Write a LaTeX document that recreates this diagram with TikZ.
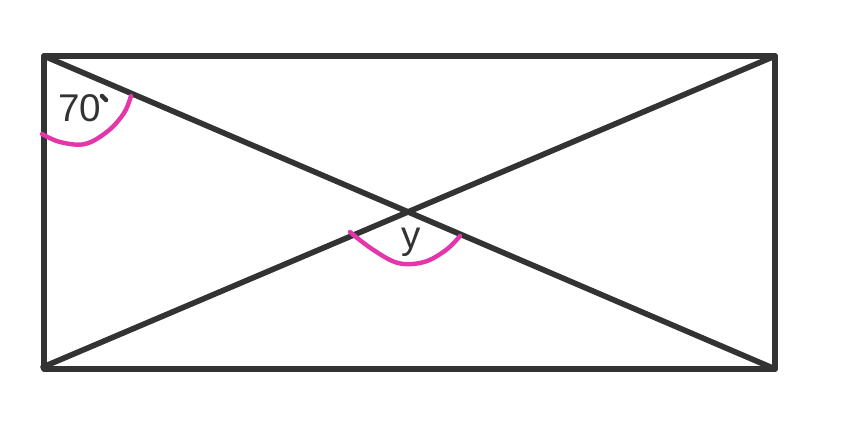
\documentclass[tikz,border=0pt]{standalone}
\usepackage{fontspec}
\setmainfont{Liberation Sans}
\usepackage{tikz}
\usetikzlibrary{positioning,calc}
\definecolor{edge}{HTML}{333333}
\definecolor{mark}{HTML}{E535AB}

\begin{document}
\begin{tikzpicture}[x=0.2mm, y=-0.2mm,
    side/.style={draw=edge, line width=3.2pt, line cap=round, line join=round},
    anglemark/.style={draw=mark, line width=2.5pt, line cap=round, line join=round},
    lbl/.style={font=\fontsize{22}{24}\selectfont, text=edge, inner sep=0pt}
]
\useasboundingbox (0,0) rectangle (856,438);
\coordinate (tl) at (44,56);
\coordinate (tr) at (775,56);
\coordinate (br) at (775,369);
\coordinate (bl) at (43,367);

\draw[side] (tl) -- (tr) -- (br) -- (44,369) -- (tl);
\draw[side] (tl) -- (br);
\draw[side] (bl) -- (tr);

% angle marks
\draw[anglemark] plot[smooth, tension=0.6] coordinates {(42,134) (60,142) (85,144) (108,131) (124,113) (131,96)};
\draw[anglemark] plot[smooth, tension=0.6] coordinates {(350,232) (372,249) (398,263) (424,262) (446,250) (460,236)};

\node[lbl] (corner) at (80,108) {70};
\draw[edge, line width=2.6pt, line cap=round] (102,96) -- (106,100);
\node[lbl] (centre) at (411,242) {y};
\end{tikzpicture}
\end{document}
